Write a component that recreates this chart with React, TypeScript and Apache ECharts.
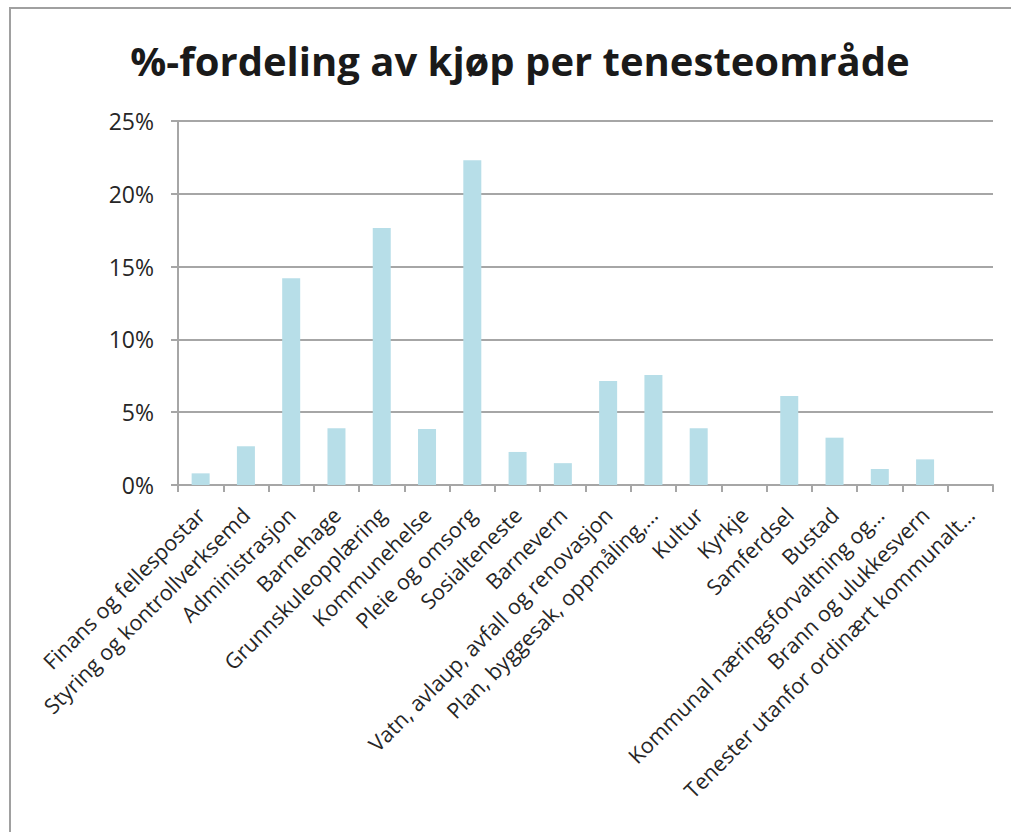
import React, { useEffect, useRef } from "react";
import * as echarts from "echarts";

const categories = [
  "Finans og fellespostar",
  "Styring og kontrollverksemd",
  "Administrasjon",
  "Barnehage",
  "Grunnskuleopplæring",
  "Kommunehelse",
  "Pleie og omsorg",
  "Sosialteneste",
  "Barnevern",
  "Vatn, avlaup, avfall og renovasjon",
  "Plan, byggesak, oppmåling,…",
  "Kultur",
  "Kyrkje",
  "Samferdsel",
  "Bustad",
  "Kommunal næringsforvaltning og…",
  "Brann og ulukkesvern",
  "Tenester utanfor ordinært kommunalt…",
];

const shares = [
  0.8, 2.66, 14.2, 3.9, 17.65, 3.85, 22.3, 2.27, 1.5, 7.14, 7.55, 3.9, 0, 6.11,
  3.25, 1.1, 1.76, 0,
];

const yTicks = [0, 5, 10, 15, 20, 25];

const FONT = "'Open Sans', sans-serif";

export default function App() {
  const ref = useRef<HTMLDivElement>(null);
  useEffect(() => {
    if (!ref.current) return;
    const chart = echarts.init(ref.current, undefined, { renderer: "svg" });
    chart.setOption({
      animation: false,
      backgroundColor: "#ffffff",
      title: {
        text: "%-fordeling av kjøp per tenesteområde",
        left: 515,
        top: 35,
        textAlign: "center",
        textStyle: {
          fontFamily: FONT,
          fontSize: 40,
          fontWeight: "bold",
          color: "#1a1a1a",
        },
      },
      graphic: [
        {
          type: "rect",
          shape: { x: 10, y: 8, width: 1200, height: 1000 },
          style: { fill: "none", stroke: "#a0a0a0", lineWidth: 2 },
          silent: true,
        },
      ],
      grid: { left: 178, right: 18, top: 121, bottom: 347 },
      xAxis: {
        type: "category",
        data: categories,
        axisLine: { lineStyle: { color: "#a6a6a6", width: 2 } },
        axisTick: {
          show: true,
          alignWithLabel: false,
          length: 7,
          lineStyle: { color: "#a6a6a6", width: 2 },
        },
        axisLabel: {
          rotate: 45,
          interval: 0,
          fontFamily: FONT,
          fontSize: 21.5,
          color: "#262626",
          margin: 26,
        },
      },
      yAxis: {
        type: "value",
        min: yTicks[0],
        max: yTicks[yTicks.length - 1],
        interval: 5,
        axisLine: { show: true, lineStyle: { color: "#a6a6a6", width: 2 } },
        axisTick: {
          show: true,
          length: 7,
          lineStyle: { color: "#a6a6a6", width: 2 },
        },
        splitLine: { lineStyle: { color: "#a6a6a6", width: 2 } },
        axisLabel: {
          formatter: (v: number) => `${v}%`,
          fontFamily: FONT,
          fontSize: 23,
          color: "#262626",
          margin: 24,
        },
      },
      series: [
        {
          type: "bar",
          data: shares,
          barWidth: 18,
          itemStyle: { color: "#b7dee8" },
        },
      ],
    });
    return () => chart.dispose();
  }, []);
  return (
    <div
      ref={ref}
      style={{ position: "absolute", left: 0, top: 0, width: 1011, height: 832 }}
    />
  );
}
